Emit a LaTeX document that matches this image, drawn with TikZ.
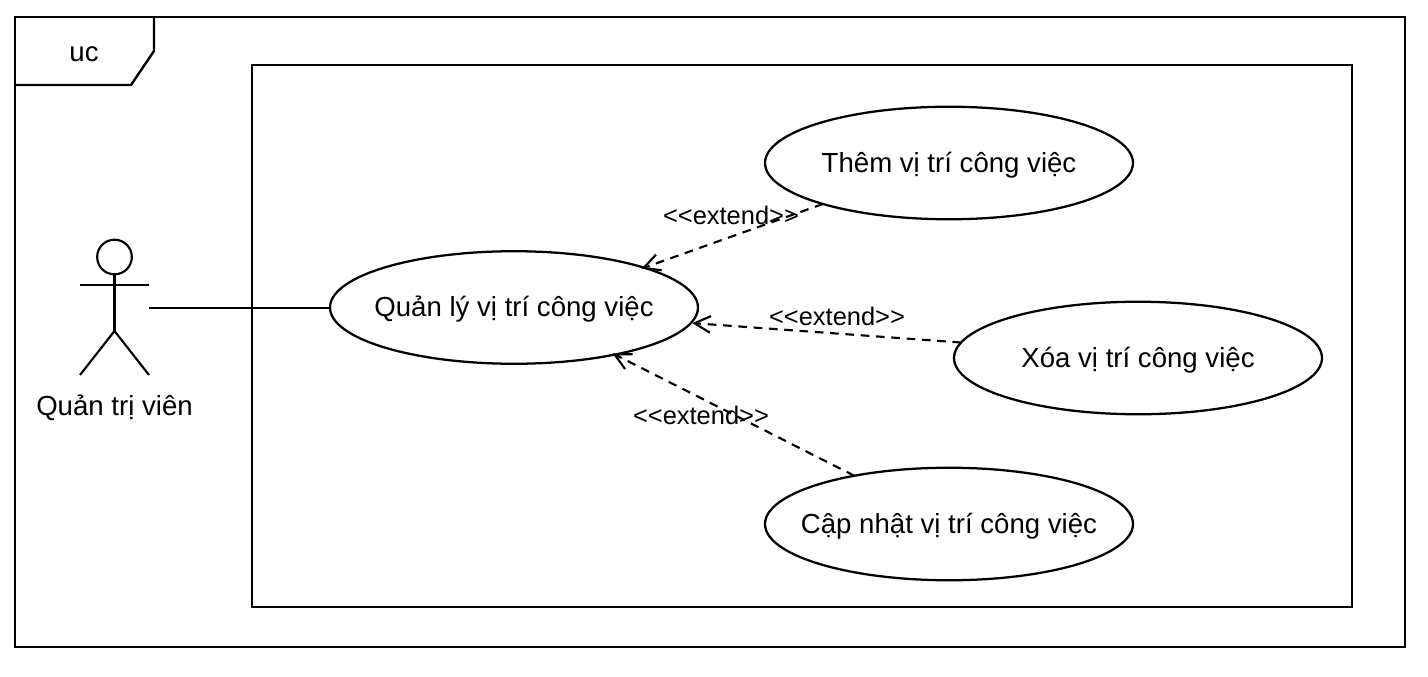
\documentclass[tikz,border=0pt]{standalone}
\usepackage{fontspec}
\setmainfont{Liberation Sans}[Ligatures=NoCommon]
\usetikzlibrary{arrows.meta,shapes.geometric}
\tikzset{
  line/.style={draw=black,line width=1.8pt},
  usecase/.style={line,line width=1.7pt,ellipse,fill=white,minimum width=276pt,minimum height=84.4pt,inner sep=0pt,outer sep=0pt},
  frm/.style={line,rectangle,inner sep=0pt,outer sep=0pt,anchor=north west},
  lbl/.style={inner sep=0pt,font=\fontsize{19.1pt}{22pt}\selectfont},
  txt/.style={inner sep=0pt,font=\fontsize{20.7pt}{24pt}\selectfont},
  uctxt/.style={txt,yshift=-1.5pt},
  ext/.style={line,line width=1.6pt,dash pattern=on 6.5pt off 5pt,shorten >=-2pt,-{Straight Barb[length=12pt,width=12.5pt,line width=1.6pt]}},
  assoc/.style={line,line width=1.8pt},
}
\newcommand{\extlabel}{{<}{<}extend{>}{>}}
\begin{document}
\begin{tikzpicture}[x=0.75pt,y=-0.75pt]
\useasboundingbox (0,0) rectangle (1428,677);
\node[frm,minimum width=1042.5pt,minimum height=472.5pt] (outer) at (15,17) {};
\node[frm,minimum width=825pt,minimum height=406.5pt] (system) at (252,65) {};
\coordinate (tabA) at (15,85);
\coordinate (tabB) at (131,85);
\coordinate (tabC) at (154,51);
\coordinate (tabD) at (154,17);
\draw[line,line join=miter] (tabA) -- (tabB) -- (tabC) -- (tabD);
\node[txt] (uc) at (84,54) {uc};
% actor
\node[line,line width=1.6pt,circle,minimum size=26pt,inner sep=0pt,outer sep=0pt] (head) at (114.5,257) {};
\coordinate (armL) at (80,285);
\coordinate (armR) at (149,285);
\coordinate (hip) at (114.5,331);
\coordinate (legL) at (80,375);
\coordinate (legR) at (149,375);
\draw[line,line width=1.6pt] (head.south) -- (hip);
\draw[line,line width=1.6pt] (armL) -- (armR);
\draw[line,line width=1.6pt] (legL) -- (hip) -- (legR);
\node[txt] (actor) at (114.5,408) {Quản trị viên};
% use cases
\node[usecase,label={[uctxt]center:Quản lý vị trí công việc}] (main) at (514,307.5) {};
\node[usecase,label={[uctxt]center:Thêm vị trí công việc}] (top) at (949,163) {};
\node[usecase,label={[uctxt]center:Xóa vị trí công việc}] (right) at (1138,358) {};
\node[usecase,label={[uctxt]center:Cập nhật vị trí công việc}] (bottom) at (949,524) {};
% connectors
\coordinate (hand) at (149,308);
\draw[assoc] (hand) -- (main.west |- hand);
\draw[ext] (top.198.4) -- (main.17.8);
\draw[ext,shorten >=1pt] (right.175) -- (main.-5.2);
\draw[ext] (bottom.153.7) -- (main.-25.9);
\node[lbl] (l1) at (731,215) {\extlabel};
\node[lbl] (l2) at (837,316) {\extlabel};
\node[lbl] (l3) at (701,415) {\extlabel};
\end{tikzpicture}
\end{document}
